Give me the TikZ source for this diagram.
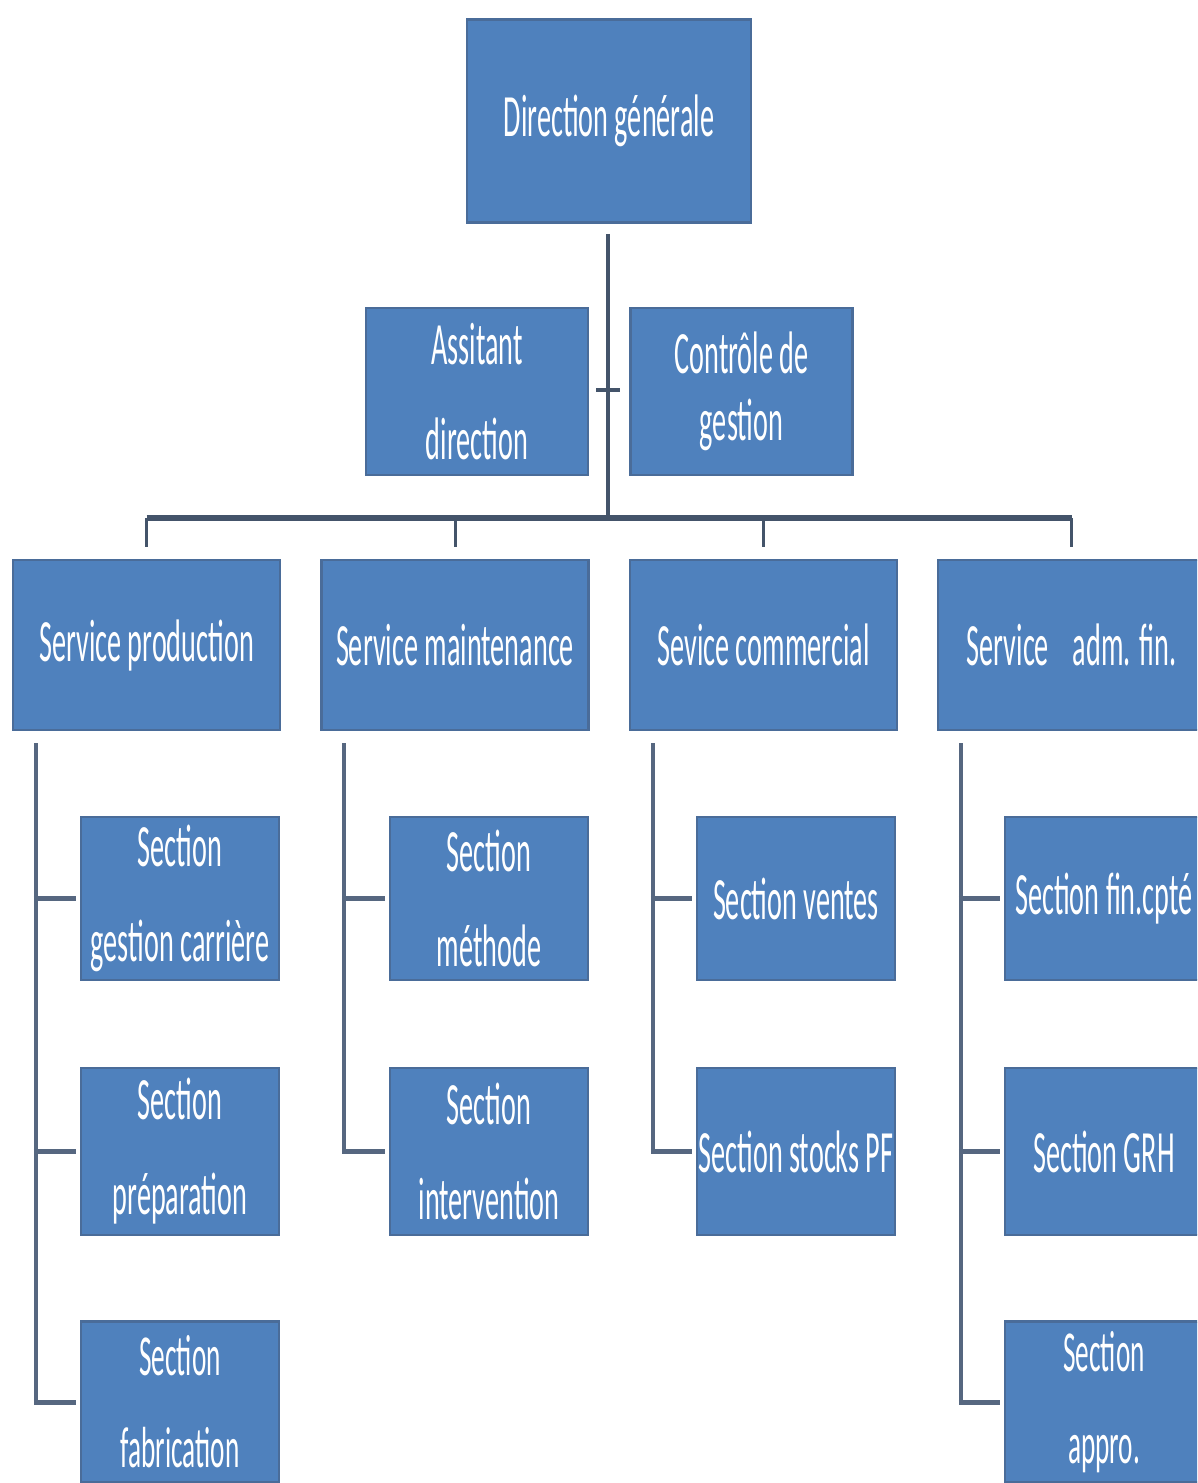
\documentclass[tikz,border=0pt]{standalone}
\usepackage{fontspec}
\newfontfamily\boxfont[FakeStretch=0.47]{Carlito}
\definecolor{boxblue}{HTML}{4F81BD}
\definecolor{boxedge}{HTML}{4A6C99}
\definecolor{linecol}{HTML}{44546A}
\definecolor{seclinecol}{HTML}{566780}
\begin{document}
\begin{tikzpicture}[x=1pt,y=-1pt,
  box/.style={rectangle, fill=boxblue, draw=boxedge, line width=2.5pt, inner sep=0pt,
    text=white, align=center, font=\boxfont\fontsize{60}{95}\selectfont},
  topbox/.style={box, minimum width=284pt, minimum height=203pt},
  sidebox/.style={box, minimum width=222pt, minimum height=167pt},
  servbox/.style={box, minimum width=267pt, minimum height=170pt},
  secbox/.style={box, minimum width=198pt, minimum height=165pt},
  lastrow/.style={box, minimum width=198pt, minimum height=161pt, font=\boxfont\fontsize{58}{92}\selectfont},
  trunk/.style={draw=linecol, line width=4.5pt},
  barline/.style={draw=linecol, line width=6pt},
  drop/.style={draw=linecol, line width=3pt},
  secline/.style={draw=seclinecol, line width=4pt},
  stub/.style={draw=seclinecol, line width=5pt}]
\path[use as bounding box, clip] (0,0) rectangle (1197,1483);
\fill[white] (0,0) rectangle (1197,1483);

% top level
\node[topbox] (dg) at (609,121) {Direction générale};
\node[sidebox] (ad) at (477,391.5) {Assitant\\direction};
\node[sidebox, font=\boxfont\fontsize{60}{67}\selectfont] (cg) at (741.5,391.5) {Contrôle de\\gestion};

% services
\node[servbox] (sp) at (146.5,645) {Service production};
\node[servbox] (sm) at (455,645) {Service maintenance};
\node[servbox] (sc) at (763.5,645) {Sevice commercial};
\node[servbox] (sa) at (1071.5,645) {Service\hspace*{24pt}adm. fin.};

% sections production
\node[secbox, minimum height=163pt] (p1) at (180,898.5) {Section\\gestion carrière};
\node[secbox, minimum height=167pt] (p2) at (180,1151.5) {Section\\préparation};
\node[lastrow] (p3) at (180,1402) {Section\\fabrication};
% sections maintenance
\node[secbox, minimum height=163pt] (m1) at (489,898.5) {Section\\méthode};
\node[secbox, minimum height=167pt] (m2) at (489,1151.5) {Section\\intervention};
% sections commercial
\node[secbox, minimum height=163pt] (c1) at (796,898.5) {Section ventes};
\node[secbox, minimum height=167pt] (c2) at (796,1151.5) {Section stocks PF};
% sections adm fin
\node[secbox, minimum height=163pt] (a1) at (1104,898.5) {Section fin.cpté};
\node[secbox, minimum height=167pt] (a2) at (1104,1151.5) {Section GRH};
\node[lastrow] (a3) at (1104,1402) {Section\\appro.};

% trunk and bar
\coordinate (bar) at (608,518);
\coordinate (tick) at (608,390);
\draw[trunk] ([yshift=-10pt]dg.south -| bar) -- (bar);
\draw[trunk, line width=4pt] ([xshift=-12pt]tick) -- ([xshift=12pt]tick);
\draw[barline] (sp.north |- bar) -- (sa.north |- bar);
\foreach \s in {sp,sm,sc,sa}{
  \draw[drop] (\s.north |- bar) -- ([yshift=12pt]\s.north);
}

% section trees
\foreach \s/\last in {sp/p3, sm/m2, sc/c2, sa/a3}{
  \coordinate (\s top) at ([xshift=24pt,yshift=-12pt]\s.south west);
  \draw[secline] (\s top) -- (\s top |- \last.west);
}
\foreach \s/\sec in {sp/p1, sp/p2, sp/p3, sm/m1, sm/m2, sc/c1, sc/c2, sa/a1, sa/a2, sa/a3}{
  \draw[stub] ([xshift=-2pt]\s top |- \sec.west) -- ([xshift=-4pt]\sec.west);
}
\end{tikzpicture}
\end{document}
